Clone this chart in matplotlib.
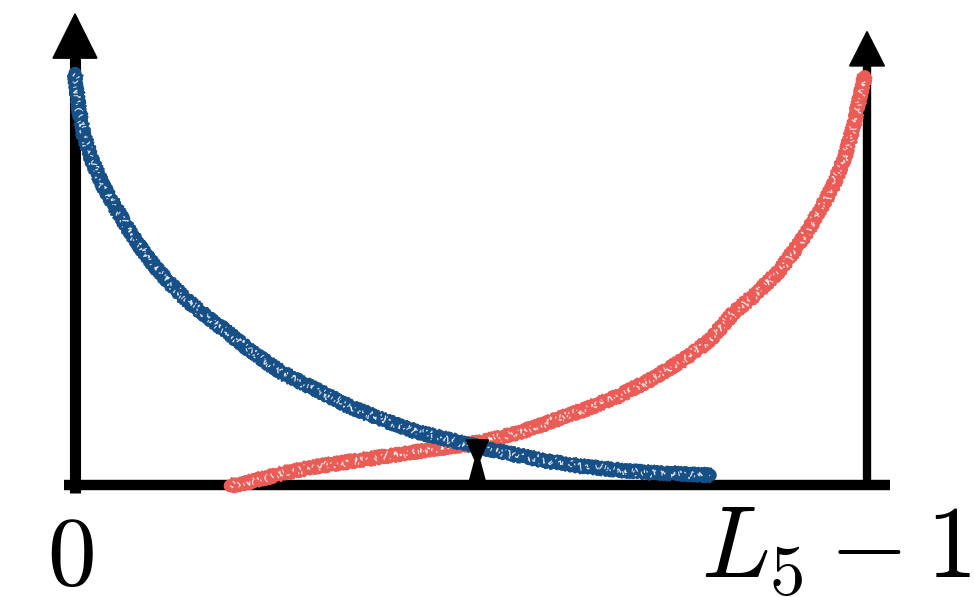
import matplotlib.pyplot as plt
from matplotlib.patches import Polygon

plt.rcParams['mathtext.fontset'] = 'cm'

# decreasing curve (blue)
blue_x = [0.0, 0.004, 0.0105, 0.021, 0.0357, 0.0505, 0.0653, 0.0821, 0.0989, 0.120,
          0.141, 0.166, 0.192, 0.221, 0.263, 0.305, 0.347, 0.389, 0.431, 0.473,
          0.516, 0.558, 0.600, 0.642, 0.684, 0.726, 0.768, 0.802]
blue_y = [1.004, 0.931, 0.858, 0.793, 0.728, 0.679, 0.630, 0.581, 0.537, 0.492,
          0.451, 0.410, 0.374, 0.327, 0.272, 0.232, 0.191, 0.159, 0.130, 0.110,
          0.090, 0.073, 0.057, 0.045, 0.037, 0.030, 0.027, 0.024]

# increasing curve (red)
red_x = [0.196, 0.221, 0.263, 0.305, 0.347, 0.389, 0.431, 0.473, 0.516, 0.558,
         0.600, 0.642, 0.684, 0.726, 0.768, 0.802, 0.831, 0.861, 0.890, 0.915,
         0.936, 0.957, 0.972, 0.983, 0.991, 0.997]
red_y = [-0.002, 0.008, 0.029, 0.045, 0.057, 0.069, 0.081, 0.093, 0.106, 0.126,
         0.154, 0.183, 0.215, 0.256, 0.305, 0.354, 0.419, 0.468, 0.524, 0.590,
         0.654, 0.728, 0.801, 0.874, 0.947, 0.996]

# where the two curves meet
cross_x = 0.508
cross_y = 0.11

tick_labels = [r'$0$', r'$L_5 - 1$']

BLUE = '#174f87'
RED = '#ec5c56'

fig = plt.figure(figsize=(9.74, 5.97), dpi=100)
ax = fig.add_axes([0, 0, 1, 1])
ax.set_xlim(-0.0947, 1.1351)
ax.set_ylim(-0.2732, 1.1829)
ax.axis('off')

# axes: baseline plus two arrows
ax.plot([-0.014, 1.029], [0, 0], color='black', lw=7.5, solid_capstyle='butt', zorder=1)
ax.plot([0, 0], [-0.02, 1.045], color='black', lw=8, solid_capstyle='butt', zorder=1)
ax.plot([1, 1], [0, 1.025], color='black', lw=6, solid_capstyle='butt', zorder=1)
ax.add_patch(Polygon([[-0.0278, 1.041], [0.0278, 1.041], [0, 1.149]],
                     closed=True, color='black', zorder=1))
ax.add_patch(Polygon([[1 - 0.022, 1.022], [1 + 0.022, 1.022], [1, 1.106]],
                     closed=True, color='black', zorder=1))

# brush-like strokes: a solid core, ragged jittered passes, and broken pale streaks
streaks = [(1.0, (3, 6, 3), (0, (3, 9, 1.5, 14, 5, 7, 2, 19))),
           (0.8, (4.5, 5, 4), (5, (2, 12, 4, 6, 1, 21, 3, 10))),
           (0.9, (2, 8, 2), (11, (1.5, 17, 3, 8, 2, 13)))]
for xs, ys, col in [(red_x, red_y, RED), (blue_x, blue_y, BLUE)]:
    ax.plot(xs, ys, color=col, lw=9.5, solid_capstyle='round', solid_joinstyle='round', zorder=2)
    for lw, sk in [(3, (6, 3, 2)), (3, (5.5, 4, 3)), (2.5, (6.5, 2.5, 4)),
                   (2, (7, 3.5, 2)), (3.5, (4.5, 5, 5))]:
        line, = ax.plot(xs, ys, color=col, lw=lw, solid_capstyle='round', zorder=2)
        line.set_sketch_params(*sk)
    for lw, sk, dash in streaks:
        line, = ax.plot(xs, ys, color='white', lw=lw, alpha=0.8, linestyle=dash, zorder=2)
        line.set_sketch_params(*sk)

# marker at the crossing point
w_base, w_neck, w_top = 0.0114, 0.003, 0.014
ax.add_patch(Polygon([[cross_x - w_base, 0], [cross_x + w_base, 0],
                      [cross_x + w_neck, cross_y * 0.55], [cross_x + w_top, cross_y],
                      [cross_x - w_top, cross_y], [cross_x - w_neck, cross_y * 0.55]],
                     closed=True, color='black', zorder=3))

ax.text(-0.006, -0.243, tick_labels[0], ha='center', va='baseline', fontsize=70)
ax.text(1.131, -0.227, tick_labels[1], ha='right', va='baseline', fontsize=73)

fig.savefig('out.png', dpi=100)
